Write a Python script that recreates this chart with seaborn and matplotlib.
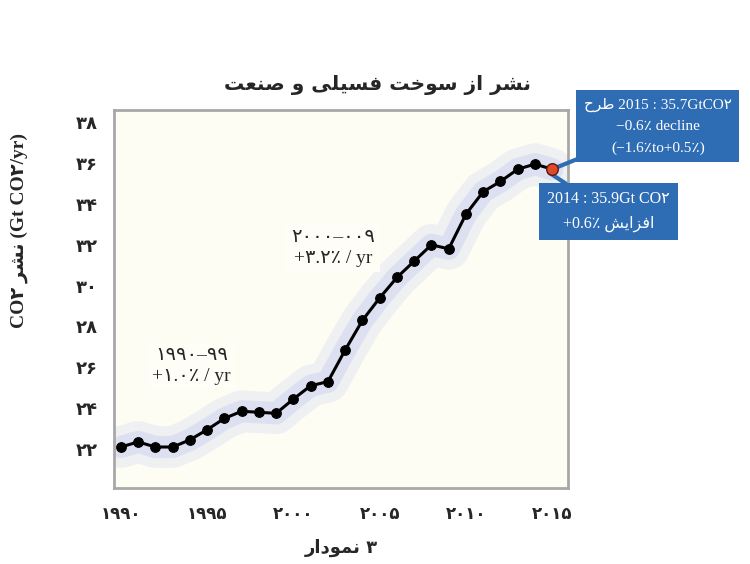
import pandas as pd
import seaborn as sns
import matplotlib.pyplot as plt

# data
years = [1990, 1991, 1992, 1993, 1994, 1995, 1996, 1997, 1998, 1999,
         2000, 2001, 2002, 2003, 2004, 2005, 2006, 2007, 2008, 2009,
         2010, 2011, 2012, 2013, 2014, 2015]
emissions = [22.1, 22.35, 22.1, 22.1, 22.45, 22.95, 23.5, 23.85, 23.8, 23.75,
             24.45, 25.1, 25.3, 26.85, 28.3, 29.4, 30.4, 31.2, 32.0, 31.8,
             33.5, 34.6, 35.1, 35.7, 35.95, 35.7]
projection_year = [2015]
projection_value = [35.7]

ytick_values = [22, 24, 26, 28, 30, 32, 34, 36, 38]
ytick_labels = ['۲۲', '۲۴', '۲۶', '۲۸', '۳۰', '۳۲', '۳۴', '۳۶', '۳۸']
xtick_values = [1990, 1995, 2000, 2005, 2010, 2015]
xtick_labels = ['۱۹۹۰', '۱۹۹۵', '۲۰۰۰', '۲۰۰۵', '۲۰۱۰', '۲۰۱۵']

# matplotlib has no arabic shaping, so pick presentation forms by hand
FORMS = {
    'ا': ('\uFE8D', '\uFE8E', None, None),
    'ت': ('\uFE95', '\uFE96', '\uFE97', '\uFE98'),
    'ح': ('\uFEA1', '\uFEA2', '\uFEA3', '\uFEA4'),
    'خ': ('\uFEA5', '\uFEA6', '\uFEA7', '\uFEA8'),
    'د': ('\uFEA9', '\uFEAA', None, None),
    'ر': ('\uFEAD', '\uFEAE', None, None),
    'ز': ('\uFEAF', '\uFEB0', None, None),
    'س': ('\uFEB1', '\uFEB2', '\uFEB3', '\uFEB4'),
    'ش': ('\uFEB5', '\uFEB6', '\uFEB7', '\uFEB8'),
    'ص': ('\uFEB9', '\uFEBA', '\uFEBB', '\uFEBC'),
    'ط': ('\uFEC1', '\uFEC2', '\uFEC3', '\uFEC4'),
    'ع': ('\uFEC9', '\uFECA', '\uFECB', '\uFECC'),
    'ف': ('\uFED1', '\uFED2', '\uFED3', '\uFED4'),
    'ل': ('\uFEDD', '\uFEDE', '\uFEDF', '\uFEE0'),
    'م': ('\uFEE1', '\uFEE2', '\uFEE3', '\uFEE4'),
    'ن': ('\uFEE5', '\uFEE6', '\uFEE7', '\uFEE8'),
    'و': ('\uFEED', '\uFEEE', None, None),
    'ی': ('\uFBFC', '\uFBFD', '\uFBFE', '\uFBFF'),
}
RIGHT_ONLY = set('ادرزو')


def shape(text):
    out = []
    for i, c in enumerate(text):
        if c not in FORMS:
            out.append(c)
            continue
        prev = text[i - 1] if i > 0 else None
        nxt = text[i + 1] if i + 1 < len(text) else None
        join_prev = prev in FORMS and prev not in RIGHT_ONLY
        join_next = nxt in FORMS and c not in RIGHT_ONLY
        iso, fin, ini, med = FORMS[c]
        if join_prev and join_next:
            out.append(med)
        elif join_prev:
            out.append(fin)
        elif join_next:
            out.append(ini)
        else:
            out.append(iso)
    return ''.join(reversed(out))


df = pd.DataFrame({'year': years, 'co2': emissions})
proj = pd.DataFrame({'year': projection_year, 'co2': projection_value})

sns.set_theme(style='white')
plt.rcParams['font.family'] = ['DejaVu Sans']
serif = ['Liberation Serif', 'DejaVu Sans']

fig = plt.figure(figsize=(7.5, 5.64), dpi=100)
ax = fig.add_axes([0.152, 0.135, 0.605, 0.67])
ax.set_facecolor('#fdfdf4')

# soft blue halo behind the series
sns.lineplot(data=df, x='year', y='co2', ax=ax, color='#d6d9ef', lw=30,
             alpha=0.35, solid_capstyle='round')
sns.lineplot(data=df, x='year', y='co2', ax=ax, color='#d2d6f0', lw=16,
             alpha=0.6, solid_capstyle='round')
sns.lineplot(data=df, x='year', y='co2', ax=ax, color='black', lw=2.2,
             marker='o', markersize=7, markeredgecolor='black')
sns.scatterplot(data=proj, x='year', y='co2', ax=ax, color='#dd4a2a', s=70,
                edgecolor='#5a1a10', linewidth=1, zorder=5)

ax.set_xlim(1989.6, 2015.9)
ax.set_ylim(20.1, 38.6)
ax.set_yticks(ytick_values)
ax.set_yticklabels(ytick_labels, fontsize=13, fontweight='bold')
ax.set_xticks(xtick_values)
ax.set_xticklabels(xtick_labels, fontsize=12, fontweight='bold')
ax.tick_params(length=0, pad=12)
for s in ax.spines.values():
    s.set_color('#a8a8a8')
    s.set_linewidth(2)

ax.set_xlabel(shape('نمودار') + ' ۳', fontsize=13, fontweight='bold', labelpad=12)
ax.set_ylabel('CO۲ ' + shape('نشر') + ' (Gt CO۲/yr)', fontsize=14,
              fontweight='bold', family=serif)
ax.yaxis.set_label_coords(-0.19, 0.68)
fig.text(0.504, 0.849, shape('نشر از سوخت فسیلی و صنعت'), ha='center',
         va='center', fontsize=14.5, fontweight='bold')

note_box = dict(boxstyle='square,pad=0.25', facecolor='#fefdf6', edgecolor='none')
ax.text(1994.1, 26.05, '۱۹۹۰–۹۹\n+۱.۰٪ / yr', ha='center', va='center',
        fontsize=14, family=serif, linespacing=1.3, bbox=note_box)
ax.text(2002.3, 31.85, '۲۰۰۰–۰۰۹\n+۳.۲٪ / yr', ha='center', va='center',
        fontsize=14, family=serif, linespacing=1.3, bbox=note_box)

blue_box = dict(boxstyle='square,pad=0.5', facecolor='#2e6cb4', edgecolor='none')
ax.annotate(shape('طرح') + ' 2015 : 35.7GtCO۲\n−0.6٪ decline\n(−1.6٪to+0.5٪)',
            xy=(2015, 35.7), xytext=(0.877, 0.776), textcoords='figure fraction',
            ha='center', va='center', color='white', fontsize=11, family=serif,
            linespacing=1.8, bbox=blue_box, annotation_clip=False,
            arrowprops=dict(arrowstyle='-', color='#2e6cb4', lw=3,
                            shrinkA=0, shrinkB=4))
ax.annotate('2014 : 35.9Gt CO۲\n+0.6٪ ' + shape('افزایش'),
            xy=(2014.7, 35.6), xytext=(0.811, 0.625), textcoords='figure fraction',
            ha='center', va='center', color='white', fontsize=11.5, family=serif,
            linespacing=1.7, bbox=blue_box, annotation_clip=False,
            arrowprops=dict(arrowstyle='-', color='#2e6cb4', lw=3,
                            shrinkA=0, shrinkB=2))

fig.savefig('out.png', dpi=100, facecolor='white')
